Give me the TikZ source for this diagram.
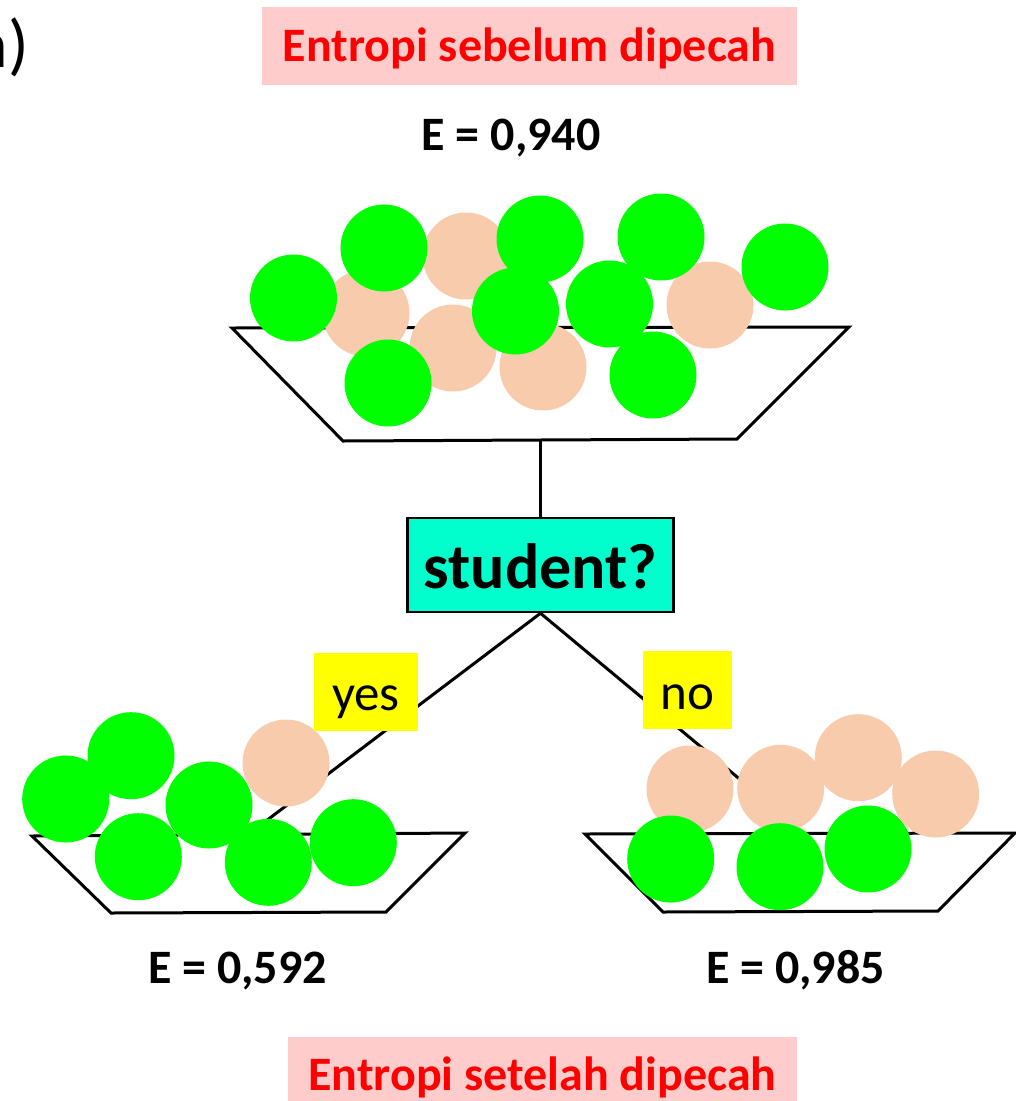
\documentclass[tikz,border=0pt]{standalone}
\usepackage{fontspec}
\setmainfont{Carlito}
\definecolor{ballgreen}{RGB}{0,255,0}
\definecolor{ballpeach}{RGB}{248,203,173}
\definecolor{headpink}{RGB}{255,204,204}
\definecolor{headred}{RGB}{255,0,0}
\definecolor{testcyan}{RGB}{0,255,204}
\definecolor{tagyellow}{RGB}{255,255,0}
\begin{document}
\begin{tikzpicture}[x=1pt,y=-1pt,
  bowl/.style={draw=black,line width=3pt,fill=white,line join=miter},
  yesball/.style={fill=ballgreen},
  noball/.style={fill=ballpeach},
  branch/.style={draw=black,line width=3pt},
  heading/.style={fill=headpink,text=headred,font=\fontsize{48}{56}\selectfont\bfseries,
    inner sep=0pt,text depth=0pt},
  entropy/.style={font=\fontsize{48}{56}\selectfont\bfseries,inner sep=0pt,anchor=base},
  answer/.style={fill=tagyellow,font=\fontsize{51}{60}\selectfont,inner sep=0pt,text depth=0pt},
  test/.style={draw=black,line width=2.5pt,fill=testcyan,font=\fontsize{64}{72}\selectfont\bfseries,
    inner sep=0pt,text depth=0pt,text height=46pt,minimum width=266pt,minimum height=94pt},
]
\useasboundingbox (0,0) rectangle (1016,1101);

% panel tag, mostly cut off at the left edge
\node[font=\fontsize{68}{80}\selectfont,anchor=base east,inner sep=0pt] (paneltag) at (29,67) {(a)};

% headings and entropy values
\node[heading,minimum width=535pt,minimum height=78pt,text height=31.4pt] (before) at (529.5,46) {Entropi sebelum dipecah};
\node[entropy] (eroot) at (511,150) {E = 0,940};
\node[heading,minimum width=509pt,minimum height=78pt,text height=28pt] (after) at (542.5,1076) {Entropi setelah dipecah};
\node[entropy] (eyes) at (237.5,983) {E = 0,592};
\node[entropy] (eno) at (795.5,983) {E = 0,985};

% bowls
\draw[bowl] (232,328) -- (849,327) -- (737,439) -- (343,441) -- cycle;
\draw[bowl] (32,836) -- (465,833) -- (386,912) -- (111,913) -- cycle;
\draw[bowl] (585,834) -- (1015,833) -- (938,911) -- (663,912) -- cycle;

% split node and its branches
\coordinate (rootbase) at (540.5,440);
\node[test] (split) at (540.5,565) {student?};
\coordinate (yesend) at (262,824);
\coordinate (noend) at (760,796);
\draw[branch] (rootbase) -- (split.north);
\draw[branch] (split.south) -- (yesend);
\draw[branch] (split.south) -- (noend);

% samples before the split
\foreach \p in {(366,313),(466,256),(710,305),(453,348),(543,367)}
  \fill[noball] \p circle[radius=43.5pt];
\foreach \p in {(293.5,298),(384,248),(540,239),(661,237),(785,267),(609.5,304),(515.5,311),(388,383),(653,375)}
  \fill[yesball] \p circle[radius=43.5pt];

% samples with student = yes
\fill[noball] (286,763) circle[radius=43.5pt];
\foreach \p in {(65.7,799),(131,755.7),(209,805),(138.3,856.7),(268.3,862.3),(353.3,842.7)}
  \fill[yesball] \p circle[radius=43.5pt];

% samples with student = no
\foreach \p in {(690,789),(780.7,788.3),(858.3,757.7),(935.7,794)}
  \fill[noball] \p circle[radius=43.5pt];
\foreach \p in {(670.7,859),(780,866.7),(868,849)}
  \fill[yesball] \p circle[radius=43.5pt];

% branch labels
\node[answer,minimum width=104pt,minimum height=78pt,text height=37.4pt] (yeslabel) at (366,692) {yes};
\node[answer,minimum width=89pt,minimum height=78pt,text height=38.6pt] (nolabel) at (687.5,690) {no};
\end{tikzpicture}
\end{document}
